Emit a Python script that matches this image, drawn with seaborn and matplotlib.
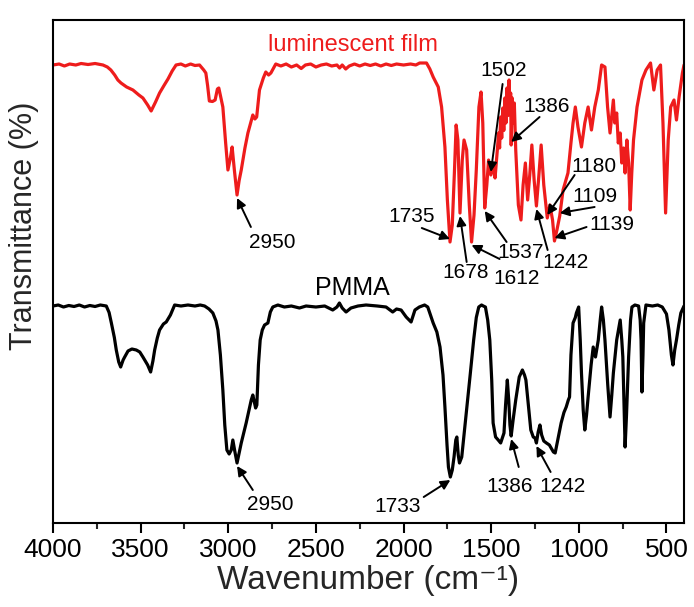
import numpy as np
import pandas as pd
import matplotlib
matplotlib.use("Agg")
import matplotlib.pyplot as plt
import seaborn as sns

# FTIR spectra: wavenumber (cm^-1) and transmittance (%)
film_wn = [4000, 3965, 3935, 3905, 3870, 3840, 3800, 3760, 3715, 3690, 3670, 3648, 3630, 3612, 3580,
           3544, 3510, 3487, 3460, 3440, 3415, 3392, 3365, 3344, 3320, 3298, 3270, 3245, 3215, 3190,
           3164, 3140, 3128, 3118, 3108, 3090, 3075, 3062, 3054, 3042, 3031, 3015, 3002, 2988, 2978,
           2965, 2950, 2938, 2926, 2905, 2888, 2860, 2848, 2838, 2822, 2800, 2786, 2770, 2757, 2729,
           2700, 2670, 2640, 2610, 2584, 2560, 2530, 2500, 2470, 2440, 2410, 2380, 2365, 2350, 2330,
           2310, 2280, 2250, 2220, 2190, 2160, 2130, 2100, 2070, 2040, 2000, 1960, 1930, 1908, 1869,
           1850, 1831, 1802, 1783, 1764, 1750, 1735, 1722, 1710, 1700, 1690, 1678, 1665, 1655, 1640,
           1625, 1612, 1598, 1585, 1570, 1558, 1548, 1537, 1525, 1515, 1502, 1490, 1478,
           1465, 1458, 1452, 1446, 1440, 1434, 1428, 1422, 1416, 1410, 1404, 1398, 1393, 1389, 1386,
           1380, 1374, 1368, 1360, 1345, 1330,
           1318, 1305, 1292, 1280, 1268, 1255, 1242, 1230, 1215, 1200, 1180, 1165, 1150, 1139, 1125,
           1109, 1090, 1062, 1045, 1033, 1020, 1005, 985, 966, 947, 928, 909, 889, 870, 851,
           836, 822, 803, 795, 784, 775, 764, 755, 745, 736, 726, 716, 707, 698, 688,
           668, 640, 617, 591, 572, 553,
           534, 520, 505, 490, 476, 457, 443, 428, 409, 400]
film_t = [99.6, 99.8, 99.4, 99.8, 99.6, 99.9, 99.7, 99.9, 99.6, 99.2, 98.6, 97.6, 96.6, 96.0, 95.2,
          94.6, 93.6, 93.0, 91.6, 90.4, 92.2, 94.0, 95.6, 96.8, 98.4, 99.6, 99.8, 99.4, 99.8, 99.5,
          99.6, 98.6, 98.0, 95.5, 92.4, 92.3, 92.6, 94.8, 95.0, 93.0, 91.2, 84.0, 78.6, 81.0, 83.2,
          78.5, 73.6, 76.5, 78.6, 83.0, 86.0, 89.6, 88.8, 89.2, 94.6, 97.0, 98.2, 97.6, 98.0, 99.8,
          99.4, 99.8, 99.2, 99.6, 98.9, 99.6, 99.8, 99.2, 99.6, 99.8, 99.4, 99.6, 99.0, 99.6, 98.8,
          99.4, 99.8, 99.4, 99.8, 99.5, 99.8, 99.4, 99.8, 99.5, 99.8, 99.6, 99.8, 99.6, 100.0, 100.0,
          98.8, 97.2, 95.2, 91.2, 83.2, 72.6, 64.2, 67.6, 78.0, 87.6, 84.6, 70.0, 80.6, 84.6, 82.6,
          71.6, 64.2, 69.6, 78.6, 91.2, 94.2, 88.0, 71.0, 75.6, 80.6, 77.6, 79.6, 77.0,
          82.6, 86.0, 83.0, 89.2, 85.0, 91.0, 86.5, 93.0, 88.0, 95.0, 89.5, 96.6, 90.0, 94.0, 83.6,
          93.0, 88.0, 92.0, 82.6, 71.6, 68.6,
          75.6, 80.0, 72.6, 77.6, 83.6, 76.6, 71.4, 76.6, 83.6, 75.6, 69.0, 71.6, 68.6, 64.4, 66.6,
          69.4, 74.6, 78.0, 84.0, 88.0, 91.2, 87.2, 83.2, 88.0, 91.2, 86.6, 91.2, 94.6, 99.6, 99.2,
          91.2, 86.0, 92.6, 88.0, 90.0, 84.0, 86.0, 80.0, 83.0, 78.0, 84.6, 80.0, 70.6, 78.0, 84.6,
          91.2, 96.6, 98.6, 100.0, 94.6, 98.6,
          99.6, 88.0, 70.0, 84.6, 91.2, 92.6, 88.6, 93.2, 98.0, 99.6]

pmma_wn = [4000, 3970, 3940, 3910, 3880, 3850, 3820, 3790, 3760, 3730, 3696, 3680, 3667, 3650, 3639,
           3625, 3614, 3600, 3591, 3572, 3550, 3525, 3505, 3487, 3460, 3443, 3430, 3420, 3405, 3392,
           3370, 3354, 3330, 3306, 3270, 3230, 3190, 3160, 3135, 3110, 3088, 3070, 3059, 3045, 3031,
           3020, 3008, 2995, 2983, 2974, 2962, 2950, 2938, 2926, 2898, 2869, 2860, 2854, 2844, 2837,
           2828, 2818, 2806, 2793, 2774, 2760, 2746, 2717, 2680, 2640, 2594, 2556, 2500, 2450, 2404,
           2380, 2366, 2350, 2328, 2300, 2260, 2214, 2150, 2100, 2062, 2040, 2014, 1985, 1957, 1935,
           1910, 1880, 1862, 1831, 1810, 1792, 1775, 1764, 1752, 1744, 1733, 1722, 1712, 1702, 1696,
           1688, 1681, 1668, 1655, 1639, 1620, 1600, 1585, 1571, 1555, 1545, 1533, 1520, 1508, 1497,
           1489, 1475, 1460, 1446, 1427, 1418, 1408, 1400, 1393, 1386, 1375, 1360, 1340, 1322, 1310,
           1302, 1288, 1274, 1260, 1250, 1242, 1232, 1222, 1212, 1200, 1185, 1168, 1145, 1135, 1120,
           1101, 1085, 1072, 1060, 1053, 1045, 1033, 1020, 1014, 1001, 992, 985, 975, 966, 956,
           947, 930, 918, 905, 889, 878, 870, 860, 851, 835, 822, 812, 803, 784, 764,
           755, 749, 742, 736, 728, 716, 705, 697, 680, 659, 650, 645, 640, 634, 630,
           617, 580, 550, 524, 500, 486, 472, 463, 453, 443, 430, 418, 400]
pmma_t = [99.8, 100.0, 99.6, 99.9, 99.7, 100.0, 99.6, 99.9, 99.7, 100.0, 99.8, 98.5, 96.4, 93.5, 91.0,
          88.6, 87.6, 89.0, 89.6, 90.8, 91.2, 91.0, 90.6, 89.6, 88.0, 86.6, 88.8, 91.0, 93.4, 95.0,
          96.2, 96.6, 98.0, 100.0, 99.8, 100.0, 99.8, 100.0, 99.8, 99.2, 98.4, 96.8, 95.0, 90.0, 83.0,
          76.0, 71.0, 70.2, 71.0, 73.0, 70.6, 68.4, 70.4, 72.4, 76.4, 81.0, 82.0, 81.0, 79.4, 80.0,
          88.0, 93.0, 95.0, 96.0, 96.4, 98.6, 99.6, 100.0, 99.6, 99.8, 99.4, 99.8, 99.6, 99.8, 99.0,
          99.6, 100.4, 99.4, 98.6, 99.4, 99.8, 100.0, 99.8, 99.6, 98.6, 99.2, 99.0, 97.6, 96.6, 99.0,
          99.6, 100.0, 99.6, 96.4, 94.6, 91.6, 86.0, 79.6, 72.0, 67.6, 65.6, 67.0, 69.6, 73.0, 73.6,
          70.0, 68.4, 69.6, 74.0, 79.6, 86.0, 93.0, 97.5, 99.6, 100.0, 99.8, 99.6, 97.0, 93.0, 85.0,
          76.4, 73.6, 73.0, 72.4, 74.4, 80.0, 85.0, 81.0, 76.0, 73.8, 77.0, 81.0, 85.6, 87.0, 86.0,
          85.0, 80.0, 75.0, 73.6, 73.4, 72.4, 74.6, 76.0, 74.0, 72.8, 72.4, 72.0, 70.6, 70.4, 73.0,
          76.4, 78.5, 79.6, 81.0, 81.6, 90.0, 96.4, 97.5, 98.4, 99.6, 93.0, 86.4, 79.0, 75.0, 78.0,
          81.6, 88.0, 91.6, 89.6, 93.0, 97.0, 99.6, 97.0, 93.0, 84.0, 77.6, 82.0, 86.4, 93.0, 97.0,
          93.0, 89.6, 80.0, 71.6, 78.0, 89.6, 97.0, 99.6, 100.0, 99.8, 97.0, 93.0, 82.6, 90.0, 96.4,
          100.0, 99.8, 100.0, 99.6, 98.2, 95.0, 90.0, 88.0, 91.0, 93.0, 96.0, 98.4, 99.8]

# labelled bands
film_peaks = [2950, 1735, 1678, 1612, 1537, 1502, 1386, 1242, 1180, 1139, 1109]
pmma_peaks = [2950, 1733, 1386, 1242]

# vertical shift applied to the film trace so the two spectra are stacked
FILM_SHIFT = 48.4

# label placement: (text x, text y, arrow tail x, arrow tail y) in data units
film_layout = {
    2950: (2751, 112.4, 2871, 115.6),
    1735: (1953, 117.8, 1896, 115.4),
    1678: (1645, 106.4, 1640, 108.6),
    1612: (1355, 105.4, 1452, 109.2),
    1537: (1332, 110.6, 1412, 112.6),
    1502: (1429, 146.8, 1435, 144.2),
    1386: (1184, 139.8, 1224, 137.6),
    1242: (1075, 108.6, 1178, 111.0),
    1180: (916, 127.8, 1024, 126.0),
    1109: (910, 121.8, 910, 119.6),
    1139: (813, 116.0, 956, 115.6),
}
pmma_layout = {
    2950: (2763, 60.2, 2860, 63.0),
    1733: (2033, 59.8, 1885, 61.6),
    1386: (1395, 63.8, 1343, 67.6),
    1242: (1093, 63.6, 1161, 66.6),
}

RED = "#ee1c1c"

sns.set_style("ticks")
plt.rcParams["font.family"] = ["Liberation Sans", "DejaVu Sans"]

df = pd.concat([
    pd.DataFrame({"wn": film_wn, "T": np.array(film_t) + FILM_SHIFT, "sample": "film"}),
    pd.DataFrame({"wn": pmma_wn, "T": pmma_t, "sample": "PMMA"}),
], ignore_index=True)

fig = plt.figure(figsize=(6.94, 6.07), dpi=100)
ax = fig.add_axes([53 / 694, 84 / 607, 631 / 694, 503 / 607])

sns.lineplot(data=df, x="wn", y="T", hue="sample", palette={"film": RED, "PMMA": "black"},
             estimator=None, sort=False, linewidth=2.3, legend=False, ax=ax)

ax.set_xlim(4000, 400)
ax.set_ylim(56.4, 157.0)
ax.set_xticks([4000, 3500, 3000, 2500, 2000, 1500, 1000, 500])
ax.set_xticks([3750, 3250, 2750, 2250, 1750, 1250, 750], minor=True)
ax.set_yticks([])
ax.tick_params(axis="x", which="major", direction="out", length=7, width=1.5,
               labelsize=19, pad=4, colors="black")
ax.tick_params(axis="x", which="minor", direction="out", length=4, width=1.5)
for s in ax.spines.values():
    s.set_linewidth(1.5)
    s.set_color("black")

ax.set_xlabel("Wavenumber (cm\u207b\u00b9)", fontsize=24, labelpad=2)
ax.set_ylabel("Transmittance (%)", fontsize=22)
ax.yaxis.set_label_coords(-0.022, 0.59)

arrow = dict(arrowstyle="-|>", color="black", lw=1.4, mutation_scale=14,
             shrinkA=0, shrinkB=0)


def label_bands(peaks, wn, t, shift, layout):
    wn_asc = np.array(wn)[::-1]
    t_asc = np.array(t)[::-1] + shift
    for p in peaks:
        tx, ty, ax0, ay0 = layout[p]
        yp = np.interp(p, wn_asc, t_asc)
        tip = yp - 0.6 if ay0 < yp else yp + 0.6
        ax.annotate("", xy=(p, tip), xytext=(ax0, ay0), arrowprops=arrow)
        ax.text(tx, ty, str(p), fontsize=15, ha="center", va="center", color="black")


label_bands(film_peaks, film_wn, film_t, FILM_SHIFT, film_layout)
label_bands(pmma_peaks, pmma_wn, pmma_t, 0.0, pmma_layout)

ax.text(2290, 152.0, "luminescent film", color=RED, fontsize=17, ha="center", va="center")
ax.text(2290, 103.4, "PMMA", color="black", fontsize=18, ha="center", va="center")

fig.savefig("out.png", dpi=100)
